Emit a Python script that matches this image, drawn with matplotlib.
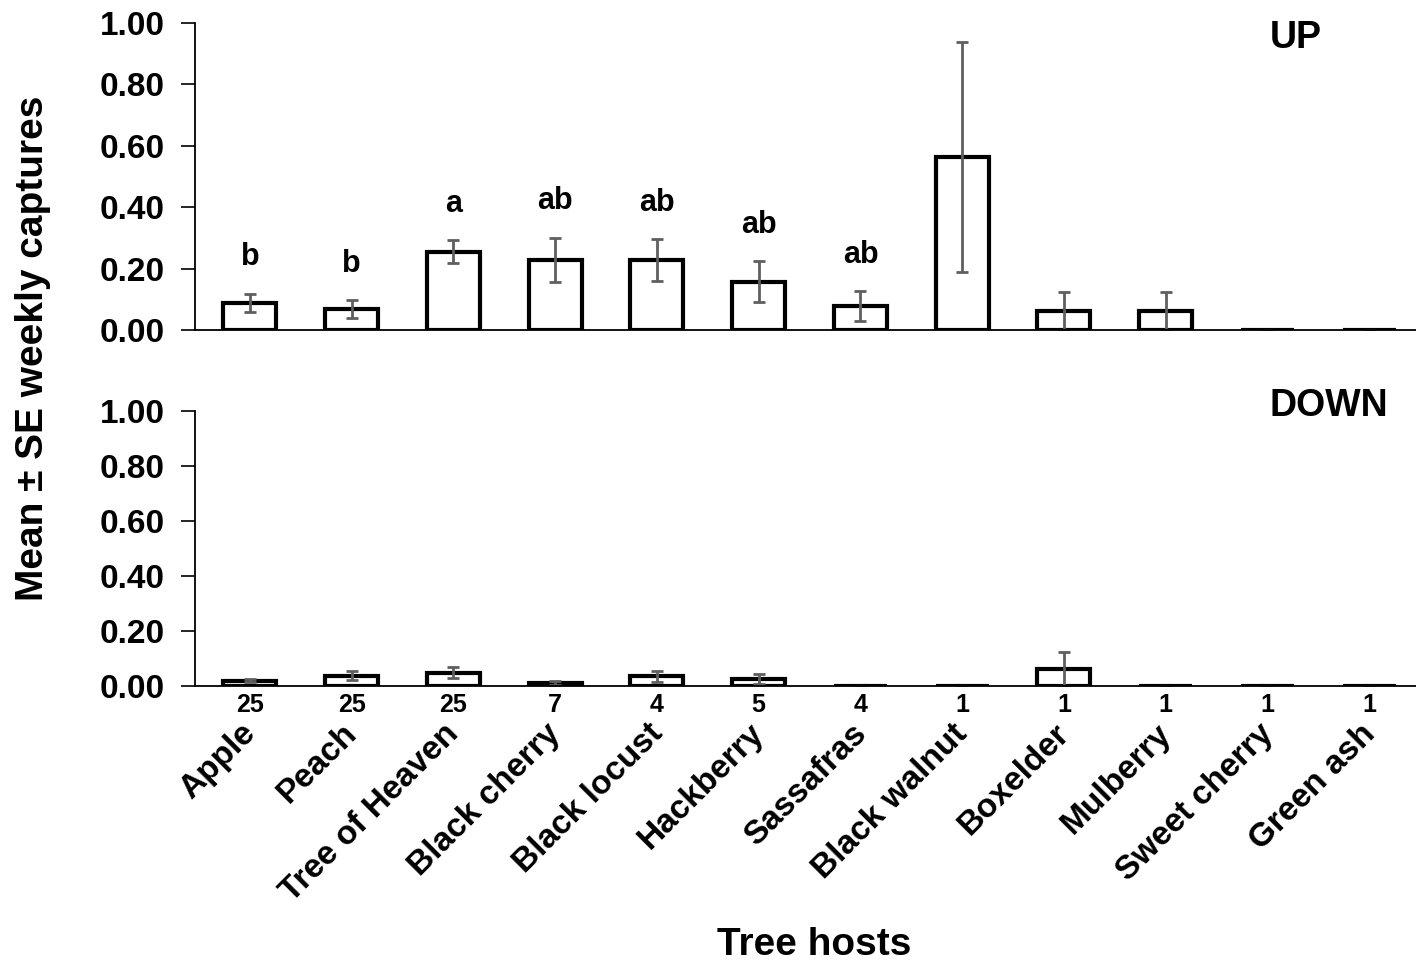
import matplotlib
matplotlib.use("Agg")
import matplotlib.pyplot as plt
import matplotlib.transforms as mtransforms
import numpy as np

plt.rcParams['font.family'] = ['Liberation Sans', 'DejaVu Sans']
plt.rcParams['font.weight'] = 'bold'

hosts = ['Apple', 'Peach', 'Tree of Heaven', 'Black cherry', 'Black locust',
         'Hackberry', 'Sassafras', 'Black walnut', 'Boxelder', 'Mulberry',
         'Sweet cherry', 'Green ash']
n_traps = [25, 25, 25, 7, 4, 5, 4, 1, 1, 1, 1, 1]

up_mean = [0.088, 0.068, 0.255, 0.228, 0.228, 0.157, 0.078, 0.5625, 0.0625, 0.0625, 0.0, 0.0]
up_se = [0.030, 0.029, 0.037, 0.073, 0.068, 0.067, 0.048, 0.375, 0.0625, 0.0625, 0.0, 0.0]
up_letters = ['b', 'b', 'a', 'ab', 'ab', 'ab', 'ab', '', '', '', '', '']

down_mean = [0.020, 0.037, 0.048, 0.012, 0.036, 0.027, 0.0, 0.0, 0.0625, 0.0, 0.0, 0.0]
down_se = [0.007, 0.016, 0.020, 0.007, 0.020, 0.018, 0.0, 0.0, 0.0625, 0.0, 0.0, 0.0]

W, H = 1416, 966
fig = plt.figure(figsize=(W / 100, H / 100), dpi=100)

def frac(x0, y0, x1, y1):
    return [x0 / W, 1 - y1 / H, (x1 - x0) / W, (y1 - y0) / H]

ax1 = fig.add_axes(frac(195, 23, 1416, 330))
ax2 = fig.add_axes(frac(195, 411, 1416, 686))

x = np.arange(len(hosts))
err_kw = dict(ecolor='#5f5f5f', elinewidth=2, capsize=4, capthick=2)

for ax, mean, se, tag, ty in [(ax1, up_mean, up_se, 'UP', 20), (ax2, down_mean, down_se, 'DOWN', 388)]:
    ax.bar(x, mean, width=0.52, color='white', edgecolor='black', linewidth=3,
           yerr=se, error_kw=err_kw, zorder=2)
    ax.set_xlim(-0.54, len(hosts) - 0.54)
    ax.set_ylim(0, 1.0)
    ax.set_yticks(np.arange(0, 1.01, 0.2))
    ax.set_yticklabels(['%.2f' % v for v in np.arange(0, 1.01, 0.2)], fontsize=24, fontweight='bold')
    ax.tick_params(axis='y', direction='out', length=10, width=1.2, pad=12)
    ax.tick_params(axis='x', length=0)
    for s in ['top', 'right']:
        ax.spines[s].set_visible(False)
    ax.spines['left'].set_linewidth(1.3)
    ax.spines['bottom'].set_linewidth(1.3)
    fig.text(1270 / W, 1 - ty / H, tag, fontsize=27, fontweight='bold', ha='left', va='top')

ax1.set_xticks([])
for i, lab in enumerate(up_letters):
    if lab:
        ax1.text(x[i], up_mean[i] + up_se[i] + 0.07, lab, ha='center', va='bottom',
                 fontsize=22, fontweight='bold')

ax2.set_xticks(x)
ax2.set_xticklabels(hosts, rotation=45, ha='right', rotation_mode='anchor',
                    fontsize=24, fontweight='bold')
ax2.tick_params(axis='x', pad=23)
shift = mtransforms.ScaledTranslation(-0.10, 0, fig.dpi_scale_trans)
for lbl in ax2.get_xticklabels():
    lbl.set_transform(lbl.get_transform() + shift)
for i, n in enumerate(n_traps):
    ax2.annotate(str(n), (x[i], 0), xytext=(0, -5), textcoords='offset points',
                 ha='center', va='top', fontsize=18, fontweight='bold')

fig.text(33 / W, 1 - 348 / H, 'Mean \u00b1 SE weekly captures', rotation=90,
         ha='center', va='center', fontsize=28, fontweight='bold')
fig.text(814 / W, 1 - 945 / H, 'Tree hosts', ha='center', va='center',
         fontsize=28, fontweight='bold')

fig.savefig('out.png', dpi=100)
